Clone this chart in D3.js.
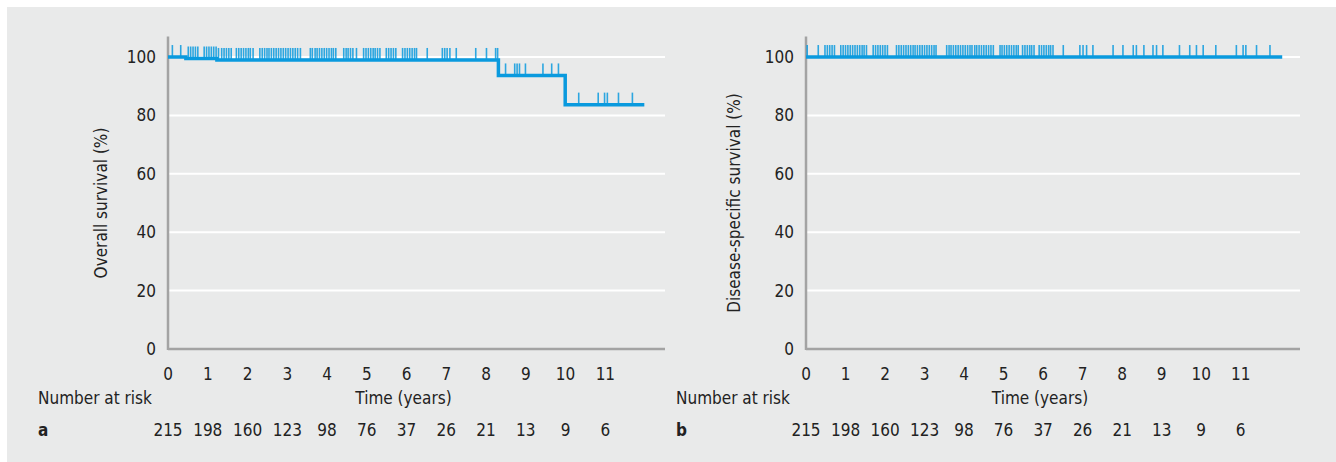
<!DOCTYPE html>
<html>
<head>
<meta charset="utf-8">
<script src="https://cdn.jsdelivr.net/npm/d3@7"></script>
<style>
  body { margin: 0; background: #fff; }
  text { font-family: "Liberation Sans Narrow", "DejaVu Sans Condensed", "Roboto", sans-serif; fill: #222; }
</style>
</head>
<body>
<svg id="chart" width="1336" height="462"></svg>
<script>
// time axis labels and number at risk (same for both panels)
const years = [0, 1, 2, 3, 4, 5, 6, 7, 8, 9, 10, 11];
const atRisk = [215, 198, 160, 123, 98, 76, 37, 26, 21, 13, 9, 6];
const yTicks = [0, 20, 40, 60, 80, 100];

// overall survival: step points [time, survival %]
const osSteps = [[0, 100], [0.45, 99.5], [1.23, 99.0], [8.31, 93.7], [9.99, 83.7], [11.98, 83.7]];
const osCensored = [0.11, 0.32, 0.51, 0.57, 0.63, 0.69, 0.75, 0.91, 0.97, 1.03, 1.09, 1.15, 1.21, 1.27,
  1.35, 1.41, 1.47, 1.53, 1.59, 1.72, 1.78, 1.84, 1.90, 1.96, 2.02, 2.07, 2.14, 2.31, 2.37, 2.43, 2.49,
  2.54, 2.60, 2.66, 2.72, 2.78, 2.84, 2.90, 2.96, 3.02, 3.08, 3.14, 3.20, 3.26, 3.33, 3.58, 3.63, 3.70,
  3.75, 3.81, 3.87, 3.93, 3.99, 4.05, 4.11, 4.16, 4.22, 4.42, 4.48, 4.53, 4.59, 4.65, 4.74, 4.92, 4.98,
  5.04, 5.10, 5.16, 5.21, 5.27, 5.33, 5.49, 5.55, 5.61, 5.67, 5.73, 5.90, 5.96, 6.02, 6.08, 6.14, 6.20,
  6.25, 6.52, 6.90, 6.96, 7.02, 7.09, 7.25, 7.74, 8.01, 8.24, 8.29,
  8.49, 8.72, 8.78, 8.84, 8.99, 9.43, 9.65, 9.82,
  10.33, 10.82, 10.98, 11.05, 11.33, 11.68];

// disease-specific survival
const dssSteps = [[0, 100], [12.05, 100]];
const dssCensored = [0.03, 0.31, 0.48, 0.54, 0.60, 0.66, 0.72, 0.88, 0.94, 1.00, 1.06, 1.12, 1.18, 1.24,
  1.30, 1.36, 1.42, 1.47, 1.53, 1.70, 1.76, 1.82, 1.88, 1.94, 2.00, 2.06, 2.29, 2.35, 2.41, 2.47, 2.53,
  2.59, 2.65, 2.71, 2.76, 2.82, 2.88, 2.94, 3.00, 3.06, 3.12, 3.18, 3.24, 3.29, 3.56, 3.62, 3.67, 3.73,
  3.79, 3.85, 3.91, 3.97, 4.03, 4.09, 4.15, 4.20, 4.27, 4.32, 4.38, 4.44, 4.50, 4.56, 4.62, 4.68, 4.74,
  4.91, 4.96, 5.02, 5.08, 5.14, 5.20, 5.26, 5.32, 5.37, 5.48, 5.54, 5.60, 5.66, 5.71, 5.77, 5.90, 5.96,
  6.02, 6.08, 6.14, 6.19, 6.25, 6.51, 6.93, 7.01, 7.10, 7.26, 7.77, 8.02, 8.28, 8.36, 8.55, 8.78, 8.87,
  9.03, 9.45, 9.71, 9.88, 10.05, 10.37, 10.89, 11.06, 11.13, 11.40, 11.74];

const blue = "#0a9ade";
const axisGrey = "#a3a3a3";

const svg = d3.select("#chart");
svg.append("rect").attr("x", 7).attr("y", 7).attr("width", 1329).attr("height", 455).attr("fill", "#e9eaea");

const panels = [
  {x0: 168, x1: 665, label: "Overall survival (%)", labelX: 101, letter: "a", left: 38, steps: osSteps, cens: osCensored},
  {x0: 806, x1: 1300, label: "Disease-specific survival (%)", labelX: 734, letter: "b", left: 676, steps: dssSteps, cens: dssCensored}
];

const y = d3.scaleLinear().domain([0, 107]).range([349, 36.6]);

panels.forEach(p => {
  const x = d3.scaleLinear().domain([0, 12.5]).range([p.x0, p.x1]);
  const g = svg.append("g");

  // gridlines
  g.selectAll(".grid").data(yTicks.slice(1)).join("line")
    .attr("x1", p.x0).attr("x2", p.x1)
    .attr("y1", d => y(d)).attr("y2", d => y(d))
    .attr("stroke", "#fff").attr("stroke-width", 2);

  // axes lines
  g.append("line").attr("x1", p.x0).attr("x2", p.x0).attr("y1", y(107)).attr("y2", y(0) + 1)
    .attr("stroke", axisGrey).attr("stroke-width", 2.5);
  g.append("line").attr("x1", p.x0).attr("x2", p.x1).attr("y1", y(0)).attr("y2", y(0))
    .attr("stroke", axisGrey).attr("stroke-width", 2.5);

  // y tick labels
  g.selectAll(".yt").data(yTicks).join("text")
    .attr("x", p.x0 - 12).attr("y", d => y(d)).attr("dy", "0.35em")
    .attr("text-anchor", "end").attr("font-size", 17).text(d => d);

  // x tick labels
  g.selectAll(".xt").data(years).join("text")
    .attr("x", d => x(d)).attr("y", 380)
    .attr("text-anchor", "middle").attr("font-size", 17).text(d => d);

  g.append("text").attr("x", (p.x0 + p.x1) / 2 - 13).attr("y", 404)
    .attr("text-anchor", "middle").attr("font-size", 17).text("Time (years)");
  g.append("text").attr("x", p.left).attr("y", 404).attr("font-size", 17).text("Number at risk");
  g.append("text").attr("x", p.left).attr("y", 436).attr("font-size", 17)
    .attr("font-weight", "bold").text(p.letter);

  g.selectAll(".risk").data(atRisk).join("text")
    .attr("x", (d, i) => x(years[i])).attr("y", 436)
    .attr("text-anchor", "middle").attr("font-size", 17).text(d => d);

  // y label
  g.append("text")
    .attr("transform", `translate(${p.labelX}, ${y(50)}) rotate(-90)`)
    .attr("text-anchor", "middle").attr("dy", "0.35em").attr("font-size", 17).text(p.label);

  // survival value at time t
  const surv = t => {
    let s = p.steps[0][1];
    p.steps.forEach(d => { if (d[0] <= t) s = d[1]; });
    return s;
  };

  // censor ticks
  g.selectAll(".cens").data(p.cens).join("line")
    .attr("x1", d => x(d)).attr("x2", d => x(d))
    .attr("y1", d => y(surv(d))).attr("y2", d => y(surv(d)) - 12)
    .attr("stroke", blue).attr("stroke-width", 1.6).attr("stroke-opacity", 0.85);

  // KM curve
  const line = d3.line().x(d => x(d[0])).y(d => y(d[1])).curve(d3.curveStepAfter);
  g.append("path").datum(p.steps).attr("d", line)
    .attr("fill", "none").attr("stroke", blue).attr("stroke-width", 3.5);
});
</script>
</body>
</html>
